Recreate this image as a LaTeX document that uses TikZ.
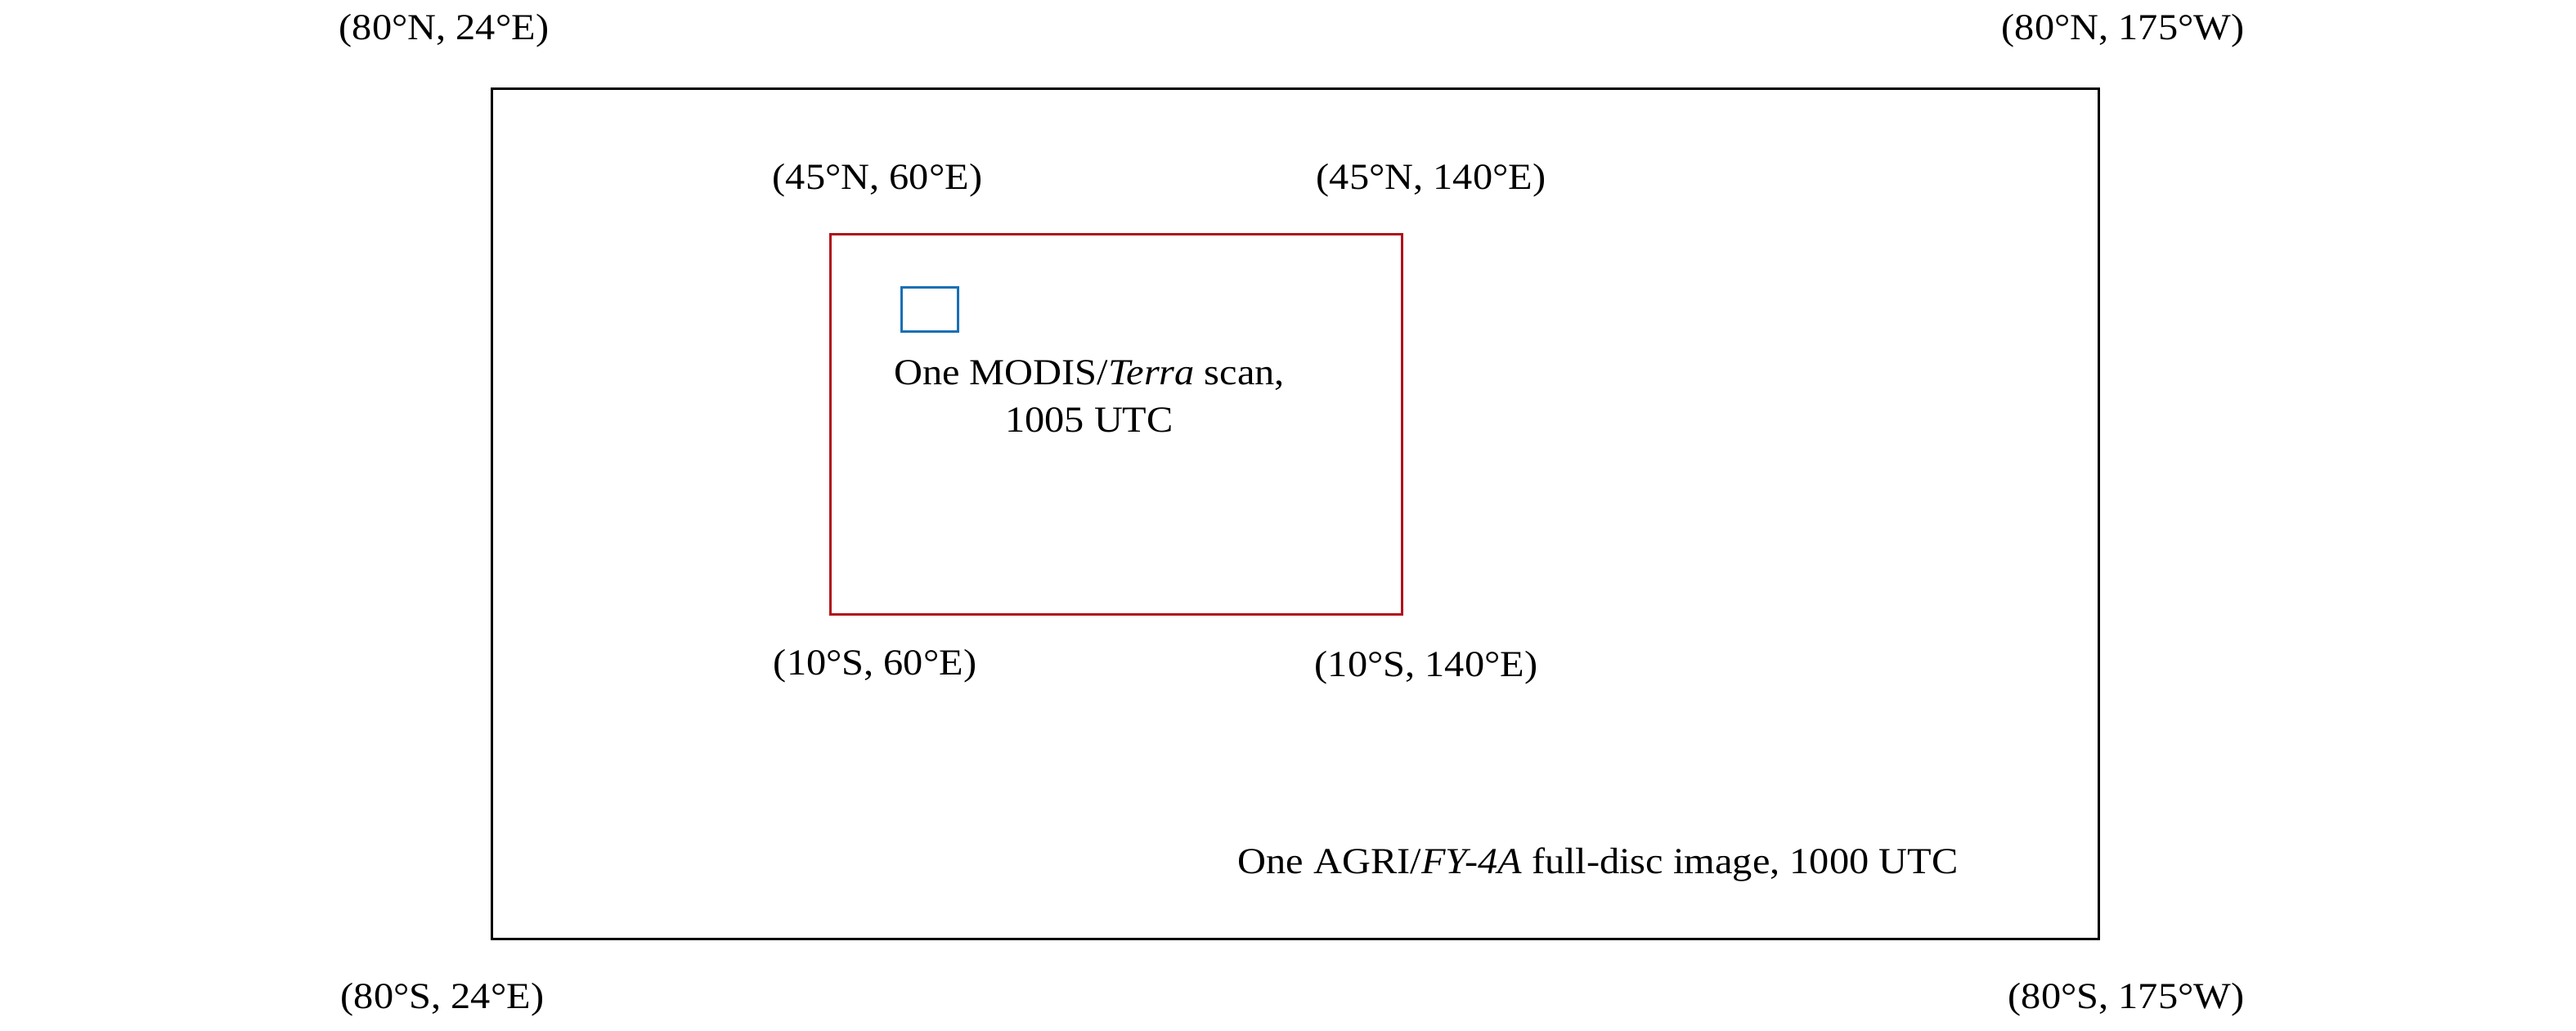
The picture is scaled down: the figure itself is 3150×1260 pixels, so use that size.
\documentclass[tikz,border=0pt]{standalone}
\usepackage{fontspec}
\setmainfont[FakeStretch=1.075]{Liberation Serif}
\usepackage{xcolor}
\usepackage{tikz}
\usetikzlibrary{positioning}
\definecolor{DomainRed}{HTML}{B0101A}
\definecolor{ScanBlue}{HTML}{1A6FB4}
\definecolor{FrameInk}{HTML}{000000}

\begin{document}
\begin{tikzpicture}[
  x=0.1mm,
  y=-0.1mm,
  font=\fontsize{12.8}{16.5}\selectfont,
  frame/.style={
    draw,
    rectangle,
    inner sep=0pt,
    line width=0.85pt
  },
  discframe/.style={frame, draw=FrameInk, minimum width=196.5mm, minimum height=104mm},
  domainframe/.style={frame, draw=DomainRed, minimum width=69.9mm, minimum height=46.5mm},
  scanframe/.style={frame, draw=ScanBlue, minimum width=6.9mm, minimum height=5.4mm},
  corner/.style={anchor=base, inner sep=0pt, text=FrameInk},
  caption/.style={anchor=base, inner sep=0pt, align=center, text=FrameInk}
]
\useasboundingbox (0,0) rectangle (3150,1260);

\node[discframe] (disc) at (1583.5,628) {};
\node[domainframe] (domain) at (1364.5,518.5) {};
\node[scanframe] (scan) at (1137,378) {};

% full-disc corners
\node[corner] (discnw) at (543,48) {(80°N, 24°E)};
\node[corner] (discne) at (2596,48) {(80°N, 175°W)};
\node[corner] (discsw) at (541,1233) {(80°S, 24°E)};
\node[corner] (discse) at (2600,1233) {(80°S, 175°W)};

% study domain corners
\node[corner] (domainnw) at (1073,231) {(45°N, 60°E)};
\node[corner] (domainne) at (1750,231) {(45°N, 140°E)};
\node[corner] (domainsw) at (1070,825) {(10°S, 60°E)};
\node[corner] (domainse) at (1744,827) {(10°S, 140°E)};

\node[caption] (scantext) at (1332,528) {One MODIS/\textit{Terra} scan,\\1005 UTC};
\node[caption] (disctext) at (1954,1068) {One AGRI/\textit{FY-4A} full-disc image, 1000 UTC};
\end{tikzpicture}
\end{document}
